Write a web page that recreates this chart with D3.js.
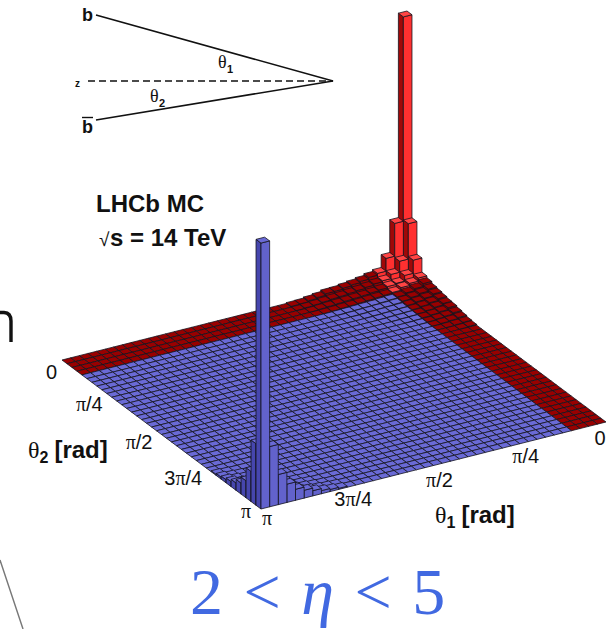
<!DOCTYPE html>
<html>
<head>
<meta charset="utf-8">
<script src="https://cdn.jsdelivr.net/npm/d3@7"></script>
<style>
  html, body { margin: 0; padding: 0; background: #fff; overflow: hidden; }
  svg { display: block; }
  text { font-family: "Liberation Sans", sans-serif; fill: #111; }
  .serif { font-family: "Liberation Serif", serif; font-weight: normal; }
</style>
</head>
<body>
<svg width="606" height="629"></svg>
<script>
var PI = Math.PI;
var nBins = 40;
var binEdges = d3.range(nBins + 1).map(function (i) { return i * PI / nBins; });

// tick labels, one list per axis, the same text on both
var thetaTicks = [0, PI / 4, PI / 2, 3 * PI / 4, PI];
var thetaTickLabels = ["0", "π/4", "π/2", "3π/4", "π"];

// red part of the surface: theta1 or theta2 below this edge
var redEdge = binEdges[4];
// cells drawn in the brighter red, around theta1 = theta2 = 0
var brightBins = 4;

// heights, red spike = 100. rows theta1 bin, columns theta2 bin, from (0,0)
var backCorner = [
  [100, 22.5, 10, 4.6, 3.9, 3.2, 2.8, 2.4, 2.0, 1.8, 1.3, 0.9, 0.5, 0.3],
  [22, 9, 5, 3.4, 2.8, 2.4, 2.0, 1.7, 1.4, 1.1, 0.8, 0.5, 0.3, 0.1],
  [9.5, 4.8, 2.8, 2.6, 2.0, 1.7, 1.4, 1.1, 0.9, 0.7, 0.5, 0.3, 0.1, 0],
  [4.6, 3.2, 2.4, 1.6, 1.3, 1.1, 0.9, 0.7, 0.5, 0.4, 0.2, 0.1, 0, 0],
  [3.9, 2.8, 1.9, 1.3, 0.9, 0.7, 0.5, 0.4, 0.3, 0.2, 0.1, 0, 0, 0],
  [3.2, 2.3, 1.6, 1.1, 0.7, 0.5, 0.4, 0.3, 0.2, 0.1, 0, 0, 0, 0],
  [2.7, 1.9, 1.3, 0.9, 0.5, 0.4, 0.3, 0.2, 0.1, 0, 0, 0, 0, 0],
  [2.3, 1.6, 1.1, 0.7, 0.4, 0.3, 0.2, 0.1, 0, 0, 0, 0, 0, 0],
  [1.9, 1.3, 0.9, 0.5, 0.3, 0.2, 0.1, 0, 0, 0, 0, 0, 0, 0],
  [1.8, 1.1, 0.7, 0.4, 0.2, 0.1, 0, 0, 0, 0, 0, 0, 0, 0],
  [1.2, 0.8, 0.5, 0.2, 0.1, 0, 0, 0, 0, 0, 0, 0, 0, 0],
  [0.8, 0.5, 0.3, 0.1, 0, 0, 0, 0, 0, 0, 0, 0, 0, 0],
  [0.4, 0.3, 0.1, 0, 0, 0, 0, 0, 0, 0, 0, 0, 0, 0],
  [0.3, 0.1, 0, 0, 0, 0, 0, 0, 0, 0, 0, 0, 0, 0]
];

// same for the blue spike, counted back from theta1 = theta2 = pi
var frontCorner = [
  [101.5, 23.5, 11.5, 6.5, 4.2, 2.8, 1.9, 1.2, 0.8, 0.4],
  [23, 9, 5, 3.2, 2.2, 1.5, 1.0, 0.7, 0.4, 0.2],
  [11.5, 5, 3, 2.0, 1.4, 1.0, 0.7, 0.4, 0.2, 0],
  [7, 3.2, 2.0, 1.4, 1.0, 0.7, 0.4, 0.2, 0, 0],
  [4.2, 2.2, 1.4, 1.0, 0.7, 0.4, 0.2, 0, 0, 0],
  [3, 1.5, 1.0, 0.7, 0.4, 0.2, 0, 0, 0, 0],
  [2, 1.0, 0.7, 0.4, 0.2, 0, 0, 0, 0, 0],
  [1.2, 0.7, 0.4, 0.2, 0, 0, 0, 0, 0, 0],
  [0.8, 0.4, 0.2, 0, 0, 0, 0, 0, 0, 0],
  [0.4, 0.2, 0, 0, 0, 0, 0, 0, 0, 0]
];

var svg = d3.select("svg");

// the floor is a parallelogram, back corner is theta1 = theta2 = 0
var backX = 407, backY = 273;
var theta1Scale = d3.scaleLinear().domain([0, PI]).range([[0, 0], [-345, 87]]);
var theta2Scale = d3.scaleLinear().domain([0, PI]).range([[0, 0], [199, 149]]);
var heightScale = d3.scaleLinear().domain([0, 100]).range([0, 262]);

function project(t1, t2, h) {
  var a = theta1Scale(t1), b = theta2Scale(t2);
  return [backX + a[0] + b[0], backY + a[1] + b[1] - heightScale(h)];
}

function binHeight(i, j) {
  var row = backCorner[i];
  if (row && row[j] !== undefined) return row[j];
  var rowF = frontCorner[nBins - 1 - i];
  if (rowF && rowF[nBins - 1 - j] !== undefined) return rowF[nBins - 1 - j];
  return 0;
}

var palette = {
  blue: { top: "#6a6ad6", left: "#4646ae", right: "#6262cc" },
  dark: { top: "#990000", left: "#7a0000", right: "#990000" },
  bright: { top: "#ff4444", left: "#a00808", right: "#ff3030" }
};

function binColours(i, j) {
  if (i < brightBins && j < brightBins) return palette.bright;
  if (binEdges[i] < redEdge || binEdges[j] < redEdge) return palette.dark;
  return palette.blue;
}

// back to front so the nearer bars cover the farther ones
var bins = [];
d3.range(nBins).forEach(function (i) {
  d3.range(nBins).forEach(function (j) {
    bins.push({ i: i, j: j, h: binHeight(i, j) });
  });
});
bins.sort(function (a, b) { return (a.i + a.j) - (b.i + b.j); });

var line = d3.line();
var gLego = svg.append("g")
  .attr("stroke", "#14141e")
  .attr("stroke-width", 0.8)
  .attr("stroke-linejoin", "round");

bins.forEach(function (d) {
  var t0 = binEdges[d.i], t1 = binEdges[d.i + 1],
      u0 = binEdges[d.j], u1 = binEdges[d.j + 1],
      c = binColours(d.i, d.j);
  if (d.h > 0) {
    // the face turned to the left corner, then the one turned to the right corner
    gLego.append("path").attr("fill", c.left)
      .attr("d", line([project(t1, u0, d.h), project(t1, u1, d.h), project(t1, u1, 0), project(t1, u0, 0)]) + "Z");
    gLego.append("path").attr("fill", c.right)
      .attr("d", line([project(t0, u1, d.h), project(t1, u1, d.h), project(t1, u1, 0), project(t0, u1, 0)]) + "Z");
  }
  gLego.append("path").attr("fill", c.top)
    .attr("d", line([project(t0, u0, d.h), project(t1, u0, d.h), project(t1, u1, d.h), project(t0, u1, d.h)]) + "Z");
});

// tick label with the pi sign in the serif face
function piText(sel, label) {
  label.split(/(π)/).forEach(function (part) {
    if (!part) return;
    sel.append("tspan").attr("class", part === "π" ? "serif" : null).text(part);
  });
}

var gTicks = svg.append("g").attr("font-size", 20);
// the two end labels sit a little off the regular offset
var nudge2 = [[4, 5], [0, 0], [0, 0], [0, -1], [-1, -5]];
var nudge1 = [[-12, 4], [0, 0], [0, 2], [0, 0], [0, -3]];
thetaTicks.forEach(function (t, k) {
  // theta2 runs along the left front edge
  var p2 = project(PI, t, 0);
  var lab2 = gTicks.append("text").attr("text-anchor", "end")
    .attr("x", p2[0] - 9 + nudge2[k][0]).attr("y", p2[1] + 14 + nudge2[k][1]);
  piText(lab2, thetaTickLabels[k]);
  // theta1 runs along the right front edge
  var p1 = project(t, PI, 0);
  var lab1 = gTicks.append("text").attr("text-anchor", "middle")
    .attr("x", p1[0] + 6 + nudge1[k][0]).attr("y", p1[1] + 19 + nudge1[k][1]);
  piText(lab1, thetaTickLabels[k]);
});

function axisTitle(x, y, sub) {
  var t = svg.append("text").attr("x", x).attr("y", y)
    .attr("font-size", 24).attr("font-weight", "bold");
  t.append("tspan").attr("class", "serif").text("θ");
  t.append("tspan").attr("font-size", 16).attr("dy", 5).text(sub);
  t.append("tspan").attr("dy", -5).attr("dx", 6).text("[rad]");
}
axisTitle(28, 458, "2");
axisTitle(435, 523, "1");

// sketch of the two b quarks
var gSketch = svg.append("g").attr("stroke", "#111").attr("fill", "none");
gSketch.append("path").attr("stroke-width", 1.6).attr("d", "M96,15L333,81L96,120");
gSketch.append("path").attr("stroke-width", 1.5).attr("stroke-dasharray", "7,4").attr("d", "M88,81H333");
gSketch.append("path").attr("stroke-width", 1.4).attr("d", "M82,117.5H93");

function sketchText(x, y, size, bold, txt) {
  return svg.append("text").attr("x", x).attr("y", y).attr("font-size", size)
    .attr("font-weight", bold ? "bold" : "normal").text(txt);
}
sketchText(82, 21, 18, true, "b");
sketchText(82, 133, 18, true, "b");
sketchText(75, 87, 10, true, "z");
sketchText(218, 68, 18, false, "θ").attr("class", "serif");
sketchText(227, 73, 11, true, "1");
sketchText(150, 102, 18, false, "θ").attr("class", "serif");
sketchText(159, 107, 11, true, "2");

// LHCb label
sketchText(96, 212, 24, true, "LHCb MC");
sketchText(99, 246, 19, false, "√");
sketchText(110, 246, 24, true, "s = 14 TeV");

// eta range under the plot
svg.append("text").attr("x", 190).attr("y", 614)
  .attr("font-size", 66).attr("word-spacing", 4)
  .style("font-family", '"Liberation Serif", serif').style("fill", "#4169e1")
  .html('2 &lt; <tspan font-style="italic">η</tspan> &lt; 5');

// leftovers of the slide around the plot
svg.append("path").attr("fill", "none").attr("stroke", "#111").attr("stroke-width", 3.4)
  .attr("d", "M0,312.5H4Q11,313 11,321V342");
svg.append("path").attr("fill", "none").attr("stroke", "#777").attr("stroke-width", 1.4)
  .attr("d", "M0,560L23,629");
</script>
</body>
</html>
